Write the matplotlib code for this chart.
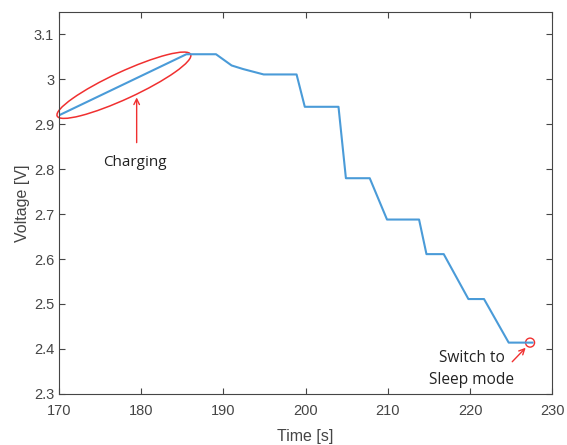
import matplotlib
matplotlib.use('Agg')
import matplotlib.pyplot as plt
from matplotlib.patches import Ellipse
from matplotlib.transforms import ScaledTranslation

# Voltage trace
time_s = [170, 185.5, 189.1, 191.0, 192.4, 194.9, 198.9, 199.9, 204.0, 204.9,
          207.8, 209.9, 213.8, 214.7, 216.8, 219.8, 221.7, 224.7, 227.6]
voltage_v = [2.92, 3.056, 3.056, 3.031, 3.023, 3.011, 3.011, 2.939, 2.939, 2.78,
             2.78, 2.688, 2.688, 2.611, 2.611, 2.511, 2.511, 2.414, 2.414]

x_ticks = [170, 180, 190, 200, 210, 220, 230]
y_ticks = [2.3, 2.4, 2.5, 2.6, 2.7, 2.8, 2.9, 3.0, 3.1]
y_tick_labels = ['2.3', '2.4', '2.5', '2.6', '2.7', '2.8', '2.9', '3', '3.1']

axis_gray = '#454545'
line_blue = '#4A9BD8'
note_red = '#F03030'

fig = plt.figure(figsize=(5.67, 4.45), dpi=100)
ax = fig.add_axes([0.104, 0.115, 0.870, 0.858])

ax.plot(time_s, voltage_v, color=line_blue, linewidth=1.5)

ax.set_xlim(170, 230)
ax.set_ylim(2.3, 3.15)
ax.set_xticks(x_ticks)
ax.set_yticks(y_ticks)
ax.set_yticklabels(y_tick_labels)
ax.tick_params(direction='in', top=True, right=True, length=4, width=0.8,
               colors=axis_gray, labelsize=10.5)
ax.tick_params(axis='x', pad=7)
for lab in ax.get_xticklabels() + ax.get_yticklabels():
    lab.set_family('Liberation Sans')
for sp in ax.spines.values():
    sp.set_color(axis_gray)
    sp.set_linewidth(0.8)

ax.set_xlabel('Time [s]', fontsize=11.5, color=axis_gray, family='Liberation Sans', labelpad=8)
ax.set_ylabel('Voltage [V]', fontsize=11.5, color=axis_gray, family='Liberation Sans', labelpad=3)

# Charging ellipse, drawn in inches around a data-coordinate centre
ell_tr = fig.dpi_scale_trans + ScaledTranslation(177.9, 2.987, ax.transData)
ax.add_patch(Ellipse((0, 0), width=1.47, height=0.27, angle=24.8, fill=False,
                     edgecolor=note_red, linewidth=1.1, transform=ell_tr, clip_on=False))
ax.annotate('', xy=(179.45, 2.966), xytext=(179.45, 2.853),
            arrowprops=dict(arrowstyle='->', color=note_red, lw=1.0))
ax.text(179.3, 2.816, 'Charging', ha='center', va='center', fontsize=11,
        family='Open Sans', color='#222222')

# Sleep mode marker
circ_tr = fig.dpi_scale_trans + ScaledTranslation(227.3, 2.414, ax.transData)
ax.add_patch(Ellipse((0, 0), width=0.09, height=0.09, fill=False,
                     edgecolor=note_red, linewidth=1.0, transform=circ_tr, clip_on=False))
ax.annotate('', xy=(227.0, 2.407), xytext=(224.9, 2.367),
            arrowprops=dict(arrowstyle='->', color=note_red, lw=1.0))
ax.text(220.2, 2.355, 'Switch to\nSleep mode', ha='center', va='center', fontsize=11.2,
        family='Open Sans', color='#222222', linespacing=1.45)

fig.savefig('out.png', dpi=100)
